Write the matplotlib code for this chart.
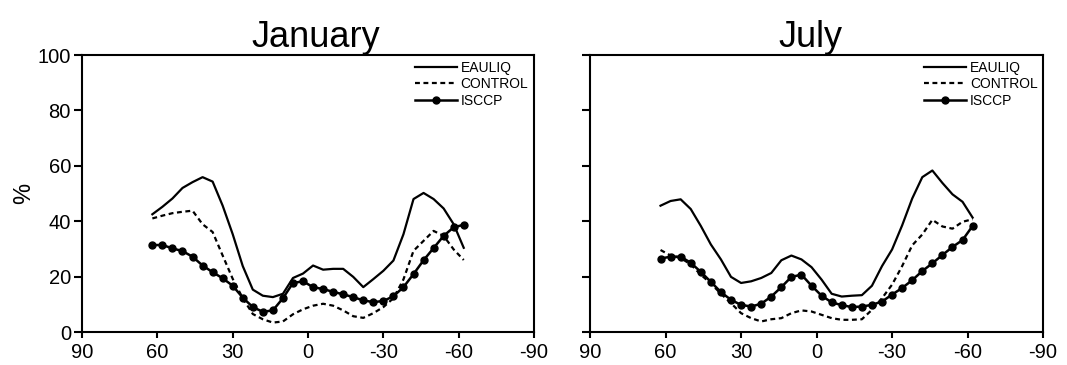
import matplotlib.pyplot as plt

plt.rcParams['font.family'] = ['Liberation Sans', 'DejaVu Sans']
plt.rcParams['axes.unicode_minus'] = False

# latitude bands, north to south
lat = [62, 58, 54, 50, 46, 42, 38, 34, 30, 26, 22, 18, 14, 10, 6, 2,
       -2, -6, -10, -14, -18, -22, -26, -30, -34, -38, -42, -46, -50, -54, -58, -62]

# January cloud cover (%)
jan_eauliq = [42.5, 45.2, 48.2, 52.0, 54.1, 55.9, 54.3, 45.6, 35.3, 23.8, 15.3, 13.1, 12.6, 13.8, 19.5, 21.1,
              24.0, 22.5, 22.8, 22.8, 19.9, 16.2, 19.1, 22.1, 25.8, 35.3, 48.0, 50.2, 48.0, 44.6, 38.9, 30.4]
jan_control = [41.0, 42.0, 42.9, 43.4, 43.8, 38.9, 36.1, 27.6, 19.2, 12.2, 6.5, 4.6, 3.4, 3.8, 6.4, 8.2,
               9.5, 10.2, 9.5, 7.8, 5.7, 5.1, 6.8, 9.0, 12.2, 19.0, 29.3, 32.9, 36.5, 34.7, 29.8, 26.0]
jan_isccp = [31.4, 31.4, 30.2, 29.2, 27.2, 24.0, 21.6, 19.4, 16.7, 12.4, 9.0, 7.3, 7.8, 12.2, 17.7, 18.3,
             16.2, 15.5, 14.5, 13.6, 12.6, 11.4, 10.8, 11.2, 12.9, 16.2, 20.9, 25.9, 30.3, 34.7, 37.8, 38.7]

# July cloud cover (%)
jul_eauliq = [45.6, 47.3, 47.9, 44.4, 38.3, 31.6, 26.2, 19.9, 17.7, 18.3, 19.5, 21.3, 25.9, 27.6, 26.2, 23.4,
              18.9, 13.8, 12.8, 13.1, 13.3, 16.7, 23.8, 29.8, 38.5, 48.2, 55.9, 58.3, 53.8, 49.7, 47.0, 41.3]
jul_control = [29.6, 27.6, 26.7, 24.4, 20.7, 17.5, 13.8, 10.4, 6.8, 5.0, 3.8, 4.6, 5.0, 6.8, 7.8, 7.4,
               6.2, 5.0, 4.4, 4.4, 4.6, 8.0, 12.2, 17.1, 23.8, 31.3, 35.2, 40.5, 38.1, 37.3, 39.8, 40.7]
jul_isccp = [26.5, 27.2, 27.2, 25.0, 21.7, 18.1, 14.4, 11.6, 9.8, 9.2, 10.2, 12.8, 16.2, 19.9, 20.7, 16.7,
             13.1, 10.7, 9.7, 9.0, 9.2, 9.8, 11.0, 13.5, 15.9, 18.7, 22.0, 24.8, 27.8, 30.7, 33.2, 38.3]

xticks = [90, 60, 30, 0, -30, -60, -90]
yticks = [0, 20, 40, 60, 80, 100]


def draw_panel(ax, title, eauliq, control, isccp, title_x):
    ax.plot(lat, eauliq, color='black', lw=1.6, label='EAULIQ')
    ax.plot(lat, control, color='black', lw=1.6, ls=(0, (2.2, 1.6)), label='CONTROL')
    ax.plot(lat, isccp, color='black', lw=1.8, marker='o', ms=5, label='ISCCP')
    ax.set_xlim(90, -90)
    ax.set_ylim(0, 100)
    ax.set_xticks(xticks)
    ax.set_yticks(yticks)
    ax.tick_params(axis='x', direction='out', length=4, width=1.5, pad=4, labelsize=14.5)
    ax.tick_params(axis='y', direction='out', length=6, width=1.5, pad=2, labelsize=14.5)
    for sp in ax.spines.values():
        sp.set_linewidth(1.5)
    ax.set_title(title, fontsize=26, pad=6, x=title_x)
    ax.legend(loc='upper right', frameon=False, fontsize=10, handlelength=3.0, numpoints=1,
              handletextpad=0.3, labelspacing=0.2, borderaxespad=0.2, borderpad=0.2)


fig = plt.figure(figsize=(10.67, 3.65), dpi=100)
ax1 = fig.add_axes([0.0769, 0.0904, 0.4236, 0.7589])
ax2 = fig.add_axes([0.553, 0.0904, 0.4246, 0.7589])

draw_panel(ax1, 'January', jan_eauliq, jan_control, jan_isccp, 0.518)
draw_panel(ax2, 'July', jul_eauliq, jul_control, jul_isccp, 0.487)

ax1.set_ylabel('%', fontsize=17, labelpad=2)
ax2.set_yticklabels([])

fig.savefig('out.png', dpi=100)
